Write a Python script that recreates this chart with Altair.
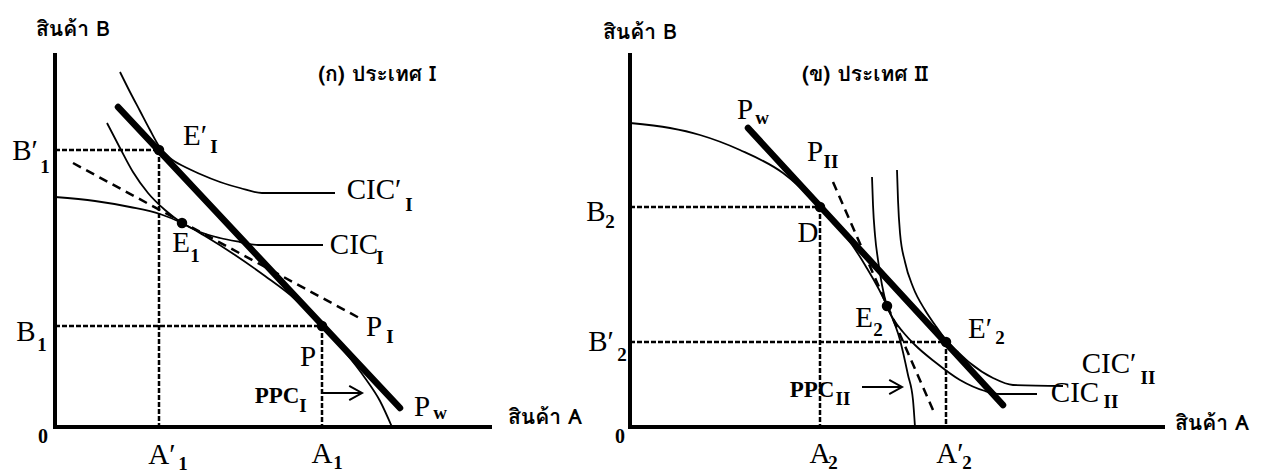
import altair as alt
import pandas as pd

SERIF = "Liberation Serif"
THAI = "Loma, Garuda, Norasi, Tlwg Typo, Noto Serif Thai, Noto Sans Thai Looped, Noto Sans Thai, sans-serif"

# ---------------- panel (ก): country I ----------------
# quantities of good A (horizontal) and good B (vertical)
ppc1_a = [0, 4.0, 7.5, 10.5, 12.7, 15.0, 18.0, 21.0, 24.0, 26.7, 29.0, 31.0, 32.5, 33.7]
ppc1_b = [23.0, 22.6, 22.0, 21.3, 20.4, 19.1, 17.2, 15.1, 12.8, 10.1, 7.5, 4.9, 2.6, 0]
cic1_a = [5.2, 6.5, 7.8, 9.3, 11.0, 12.7, 14.5, 16.5, 18.5, 20.3, 26.8]
cic1_b = [30.4, 27.9, 25.5, 23.4, 21.7, 20.4, 19.5, 18.9, 18.5, 18.2, 18.2]
cic1p_a = [6.5, 7.5, 8.5, 9.5, 10.4, 11.5, 13.0, 14.5, 16.5, 18.5, 20.7, 28.0]
cic1p_b = [35.5, 33.5, 31.6, 29.7, 28.1, 26.9, 26.0, 25.3, 24.5, 23.9, 23.4, 23.4]
pw1_a, pw1_b = [6.3, 34.5], [32.0, 1.9]          # world price line
pi1_a, pi1_b = [1.8, 30.8], [26.4, 10.7]          # autarky price line P_I
pts1_a = [10.4, 12.7, 26.7]                       # E'_I, E_1, P
pts1_b = [27.7, 20.4, 10.1]
guide1_pts = [0, 2]                               # E'_I and P get dotted guides
arrow1 = (26.7, 30.7, 3.4)                        # PPC_I pointer: from a, to a, at b
axis1_len = 43.5

labels1 = [
    ("สินค้า B", 1.8, 39.7, "thai"),
    ("(ก) ประเทศ I", 32.2, 35.2, "thai"),
    ("สินค้า A", 49.0, 0.9, "thai"),
    ("0", -1.2, -1.0, "zero"),
    ("B′", -3.0, 27.6, "main"), ("1", -1.0, 26.0, "sub"),
    ("B", -2.9, 9.5, "main"), ("1", -1.3, 8.2, "sub"),
    ("E′", 14.0, 29.1, "main"), ("I", 15.9, 28.0, "sub"),
    ("E", 12.6, 18.4, "main"), ("1", 14.0, 17.1, "sub"),
    ("CIC′", 31.9, 23.7, "main"), ("I", 35.4, 22.2, "sub"),
    ("CIC", 29.9, 18.2, "main"), ("I", 32.5, 16.9, "sub"),
    ("P", 31.9, 10.0, "main"), ("I", 33.5, 9.0, "sub"),
    ("P", 25.3, 7.0, "main"),
    ("PPC", 22.2, 3.1, "bold"), ("I", 24.8, 2.1, "sub"),
    ("P", 36.7, 2.0, "main"), ("w", 38.5, 1.4, "sub"),
    ("A′", 10.7, -2.8, "main"), ("1", 12.8, -3.7, "sub"),
    ("A", 26.7, -2.7, "main"), ("1", 28.3, -3.6, "sub"),
]

# ---------------- panel (ข): country II ----------------
ppc2_a = [0, 4.0, 7.0, 11.0, 15.3, 19.0, 21.5, 23.5, 25.7, 27.0, 27.8, 28.3, 28.5]
ppc2_b = [30.4, 29.9, 29.2, 27.7, 25.4, 22.0, 19.2, 16.2, 12.1, 8.7, 5.2, 2.7, 0]
cic2_a = [24.2, 24.3, 24.5, 24.8, 25.2, 25.7, 26.4, 27.3, 28.5, 30.5, 33.0, 35.5, 37.0, 40.7]
cic2_b = [25.0, 22.2, 19.2, 16.7, 14.2, 12.1, 10.7, 9.5, 8.2, 6.5, 4.7, 3.6, 3.3, 3.3]
cic2p_a = [26.7, 26.8, 27.0, 27.5, 28.3, 29.5, 30.5, 31.6, 32.8, 34.0, 36.3, 38.3, 43.3]
cic2p_b = [25.7, 22.7, 19.4, 16.5, 14.0, 11.7, 10.2, 8.7, 7.5, 6.4, 4.9, 4.2, 4.1]
pw2_a, pw2_b = [11.8, 37.3], [29.9, 2.2]
pii2_a, pii2_b = [20.3, 30.3], [24.5, 1.7]
pts2_a = [19.0, 25.7, 31.6]                       # D, E_2, E'_2
pts2_b = [22.0, 12.1, 8.5]
guide2_pts = [0, 2]
arrow2 = (23.2, 27.2, 4.0)
axis2_len = 53.3

labels2 = [
    ("สินค้า B", 1.0, 39.4, "thai"),
    ("(ข) ประเทศ II", 23.5, 35.2, "thai"),
    ("สินค้า A", 58.2, 0.3, "thai"),
    ("0", -1.0, -1.0, "zero"),
    ("B", -3.4, 21.5, "main"), ("2", -2.0, 20.5, "sub"),
    ("B′", -2.9, 8.5, "main"), ("2", -0.8, 7.2, "sub"),
    ("A", 19.0, -2.7, "main"), ("2", 20.3, -3.6, "sub"),
    ("A′", 32.0, -2.7, "main"), ("2", 33.7, -3.6, "sub"),
    ("P", 11.5, 31.7, "main"), ("w", 13.2, 30.9, "sub"),
    ("P", 18.5, 27.5, "main"), ("II", 20.1, 26.5, "sub"),
    ("D", 17.8, 19.4, "main"),
    ("E", 23.4, 10.9, "main"), ("2", 24.8, 9.7, "sub"),
    ("E′", 35.0, 9.8, "main"), ("2", 37.0, 8.9, "sub"),
    ("PPC", 18.2, 3.7, "bold"), ("II", 21.3, 2.8, "sub"),
    ("CIC′", 47.9, 6.3, "main"), ("II", 51.8, 4.9, "sub"),
    ("CIC", 44.5, 3.4, "main"), ("II", 48.1, 2.5, "sub"),
]

AXIS_B = 37.2
Y_DOMAIN = [-4.8, 42.7]
HEIGHT = 475

TEXT_STYLES = {
    "main": dict(font=SERIF, fontSize=29, fontWeight="normal"),
    "sub": dict(font=SERIF, fontSize=19, fontWeight="bold"),
    "bold": dict(font=SERIF, fontSize=23, fontWeight="bold"),
    "zero": dict(font=SERIF, fontSize=20, fontWeight="bold"),
    "thai": dict(font=THAI, fontSize=21, fontWeight="bold"),
}


def build_panel(xdom, width, axis_len, curves, pw, pline, pts, guide_idx, arrow, labels):
    sx = alt.Scale(domain=xdom, nice=False, zero=False)
    sy = alt.Scale(domain=Y_DOMAIN, nice=False, zero=False)

    def X(f="a"):
        return alt.X(f"{f}:Q", scale=sx, axis=None)

    def Y(f="b"):
        return alt.Y(f"{f}:Q", scale=sy, axis=None)

    def seg_chart(df, **mark):
        return alt.Chart(df).mark_rule(color="black", clip=True, **mark).encode(
            x=X(), y=Y(), x2="a2:Q", y2="b2:Q"
        )

    axes_df = pd.DataFrame({"a": [0, 0], "b": [0, 0], "a2": [0, axis_len], "b2": [AXIS_B, 0]})
    axes = seg_chart(axes_df, strokeWidth=4, strokeCap="square")

    pa, pb = pts
    g_rows = []
    for i in guide_idx:
        g_rows.append({"a": 0, "b": pb[i], "a2": pa[i], "b2": pb[i]})
        g_rows.append({"a": pa[i], "b": pb[i], "a2": pa[i], "b2": 0})
    guides = seg_chart(pd.DataFrame(g_rows), strokeWidth=2.5, strokeDash=[5, 2])

    frames = [pd.DataFrame({"curve": name, "a": a, "b": b}) for name, a, b in curves]
    curve_df = pd.concat(frames, ignore_index=True)
    curve_chart = alt.Chart(curve_df).mark_line(
        color="black", strokeWidth=1.8, interpolate="monotone", clip=True
    ).encode(x=X(), y=Y(), detail="curve:N")

    pl_df = pd.DataFrame({"a": [pline[0][0]], "b": [pline[1][0]], "a2": [pline[0][1]], "b2": [pline[1][1]]})
    pline_chart = seg_chart(pl_df, strokeWidth=2.5, strokeDash=[9, 6])

    pw_df = pd.DataFrame({"a": [pw[0][0]], "b": [pw[1][0]], "a2": [pw[0][1]], "b2": [pw[1][1]]})
    pw_chart = seg_chart(pw_df, strokeWidth=6.5, strokeCap="round")

    dots = alt.Chart(pd.DataFrame({"a": pa, "b": pb})).mark_circle(
        color="black", size=110, opacity=1, clip=True
    ).encode(x=X(), y=Y())

    a0, a1, ab = arrow
    shaft = seg_chart(pd.DataFrame({"a": [a0], "b": [ab], "a2": [a1], "b2": [ab]}), strokeWidth=2)
    head = alt.Chart(pd.DataFrame({"a": [a1], "b": [ab]})).mark_point(
        shape="M -1.6 -0.9 L 0 0 L -1.6 0.9", filled=False, size=256,
        strokeWidth=2, color="black", opacity=1, clip=True
    ).encode(x=X(), y=Y())

    lab_df = pd.DataFrame(labels, columns=["text", "a", "b", "role"])
    texts = []
    for role, style in TEXT_STYLES.items():
        sub = lab_df[lab_df.role == role]
        if sub.empty:
            continue
        texts.append(
            alt.Chart(sub).mark_text(
                color="black", align="center", baseline="middle", clip=True, **style
            ).encode(x=X(), y=Y(), text="text:N")
        )

    return alt.layer(
        axes, guides, curve_chart, pline_chart, pw_chart, dots, shaft, head, *texts
    ).properties(width=width, height=HEIGHT)


left = build_panel(
    [-5.5, 53.0], 585, axis1_len,
    [("PPC_I", ppc1_a, ppc1_b), ("CIC_I", cic1_a, cic1_b), ("CIC'_I", cic1p_a, cic1p_b)],
    (pw1_a, pw1_b), (pi1_a, pi1_b), (pts1_a, pts1_b), guide1_pts, arrow1, labels1,
)
right = build_panel(
    [-4.5, 63.6], 681, axis2_len,
    [("PPC_II", ppc2_a, ppc2_b), ("CIC_II", cic2_a, cic2_b), ("CIC'_II", cic2p_a, cic2p_b)],
    (pw2_a, pw2_b), (pii2_a, pii2_b), (pts2_a, pts2_b), guide2_pts, arrow2, labels2,
)

chart = (
    alt.hconcat(left, right, spacing=0, bounds="flush")
    .properties(padding=0, background="white")
    .configure_view(stroke=None)
)

chart.save("out.html", embed_options={"renderer": "svg", "actions": False})
